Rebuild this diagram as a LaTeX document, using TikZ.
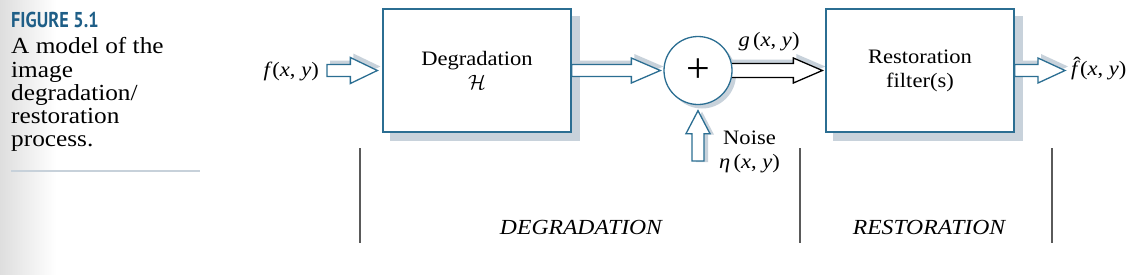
\documentclass[tikz,border=0pt]{standalone}
\usepackage{fontspec}
\setmainfont{Liberation Serif}[FakeStretch=1.1]
\newfontfamily\figfont[FakeStretch=0.85]{PT Sans}
\newfontfamily\plusfont{Liberation Serif}
\usetikzlibrary{calc}
\definecolor{figblue}{HTML}{1E5E87}
\definecolor{boxblue}{HTML}{2B6E92}
\definecolor{shadowgray}{HTML}{C8D2DB}
\definecolor{rulegray}{HTML}{C7D1DA}
\definecolor{linegray}{HTML}{5A5A5A}
\definecolor{leftgray}{HTML}{DEDEDE}
\pgfdeclarelayer{bg}
\pgfdeclarelayer{mid}
\pgfsetlayers{bg,mid,main}
% #1 style, #2 start, #3 end, #4 end offset, #5 shift, #6 shaft half, #7 head half, #8 head length
\newcommand{\hfat}[8]{\path[#1] let \p1=($(#2)+(#5)$), \p2=($(#3)+(#4)+(#5)$) in
  (\x1,\y1+#6) -- (\x2-#8,\y1+#6) -- (\x2-#8,\y1+#7) -- (\x2,\y1) -- (\x2-#8,\y1-#7) -- (\x2-#8,\y1-#6) -- (\x1,\y1-#6) -- cycle;}
\newcommand{\vfat}[8]{\path[#1] let \p1=($(#2)+(#5)$), \p2=($(#3)+(#4)+(#5)$) in
  (\x1-#6,\y1) -- (\x1-#6,\y2-#8) -- (\x1-#7,\y2-#8) -- (\x1,\y2) -- (\x1+#7,\y2-#8) -- (\x1+#6,\y2-#8) -- (\x1+#6,\y1) -- cycle;}
\newcommand{\ivar}[1]{\textit{#1}}
\newcommand{\fhatsym}{\ooalign{\textit{f}\cr\hidewidth\kern3pt\raisebox{0.2em}{ˆ}\hidewidth\cr}}
\begin{document}
\begin{tikzpicture}[x=1pt,y=-1pt,
  figtitle/.style={font=\figfont\bfseries\fontsize{21.5}{21.5}\selectfont, text=figblue, inner sep=0pt, anchor=base west},
  captxt/.style={font=\fontsize{23}{23}\selectfont, inner sep=0pt, anchor=base west},
  lab/.style={font=\fontsize{20.5}{24}\selectfont, inner sep=0pt},
  caplab/.style={font=\fontsize{21.5}{24}\selectfont\itshape, inner sep=0pt},
  blockbox/.style={draw=boxblue, line width=1.3pt, fill=white, align=center, font=\fontsize{20.5}{24}\selectfont, inner sep=0pt, minimum width=188pt, minimum height=123pt},
  sumnode/.style={circle, draw=boxblue, line width=1.3pt, fill=white, minimum size=68pt, inner sep=0pt, font=\plusfont\fontsize{42}{42}\selectfont},
  fatarrow/.style={fill=white, draw=boxblue, line width=1.3pt, line join=miter},
  fatarrowdark/.style={fill=white, draw=black, line width=1.3pt, line join=miter},
  shadowfill/.style={fill=shadowgray},
  sepline/.style={draw=linegray, line width=1.4pt}]
\useasboundingbox (0,0) rectangle (1146,274);
\shade[left color=leftgray, right color=white] (0,0) rectangle (56,274);

% caption
\node[figtitle] (fig) at (11,27) {FIGURE 5.1};
\node[captxt] (c1) at (11,53.5) {A model of the};
\node[captxt] (c2) at (11,77) {image};
\node[captxt] (c3) at (11,100) {degradation/};
\node[captxt] (c4) at (11,123) {restoration};
\node[captxt] (c5) at (11,146.5) {process.};
\draw[rulegray, line width=2pt] (11,171) -- (200,171);

% blocks
\node[blockbox] (deg) at (477,70.5) {Degradation\\$\mathcal{H}$};
\node[blockbox] (rest) at (920,70.5) {Restoration\\filter(s)};

% labels
\node[lab, anchor=east] (fxy) at (319,71) {\ivar{f}(\ivar{x}, \ivar{y})};
\node[lab] (glab) at (769,42) {\ivar{g}\,(\ivar{x}, \ivar{y})};
\node[lab, anchor=west] (fhat) at (1071,70.5) {\fhatsym(\ivar{x}, \ivar{y})};
\node[lab, align=center] (noise) at (749.5,152) {Noise\\\ivar{η}\,(\ivar{x}, \ivar{y})};
\node[caplab] (dl) at (581,227) {DEGRADATION};
\node[caplab] (rl) at (929,227) {RESTORATION};

\coordinate (fin) at (327,70.5);
\coordinate (nz) at (698,161);

% sum node (drawn on main, above arrows)
\node[sumnode] (sum) at (698,70.5) {+};

% shadows
\begin{pgfonlayer}{bg}
  \fill[shadowgray] ($(deg.south west)+(8pt,-8pt)$) rectangle ($(deg.north east)+(8pt,-8pt)$);
  \fill[shadowgray] ($(rest.south west)+(8pt,-8pt)$) rectangle ($(rest.north east)+(8pt,-8pt)$);
  \fill[shadowgray] ($(sum.center)+(4pt,-4pt)$) circle (34pt);
  \hfat{shadowfill}{fin}{deg.west}{-5pt,0pt}{3pt,4pt}{6pt}{13pt}{27pt}
  \hfat{shadowfill}{deg.east}{sum.west}{-3pt,0pt}{3pt,4pt}{6pt}{12.5pt}{29pt}
  \hfat{shadowfill}{sum.center}{rest.west}{-3pt,0pt}{3pt,4pt}{7pt}{12.5pt}{29pt}
  \hfat{shadowfill}{rest.east}{fhat.west}{-6pt,0pt}{3pt,4pt}{6pt}{12.5pt}{27pt}
  \vfat{shadowfill}{nz}{sum.south}{0pt,-5.5pt}{4pt,-1pt}{6pt}{12pt}{23pt}
\end{pgfonlayer}

% arrows
\begin{pgfonlayer}{mid}
  \hfat{fatarrow}{fin}{deg.west}{-5pt,0pt}{0pt,0pt}{6pt}{13pt}{27pt}
  \hfat{fatarrow}{deg.east}{sum.west}{-3pt,0pt}{0pt,0pt}{6pt}{12.5pt}{29pt}
  \hfat{fatarrowdark}{sum.center}{rest.west}{-3pt,0pt}{0pt,0pt}{7pt}{12.5pt}{29pt}
  \hfat{fatarrow}{rest.east}{fhat.west}{-6pt,0pt}{0pt,0pt}{6pt}{12.5pt}{27pt}
  \vfat{fatarrow}{nz}{sum.south}{0pt,-5.5pt}{0pt,0pt}{6pt}{12pt}{23pt}
\end{pgfonlayer}

% separators
\draw[sepline] (360,148) -- (360,243);
\draw[sepline] (800,148) -- (800,243);
\draw[sepline] (1052,148) -- (1052,243);
\end{tikzpicture}
\end{document}
